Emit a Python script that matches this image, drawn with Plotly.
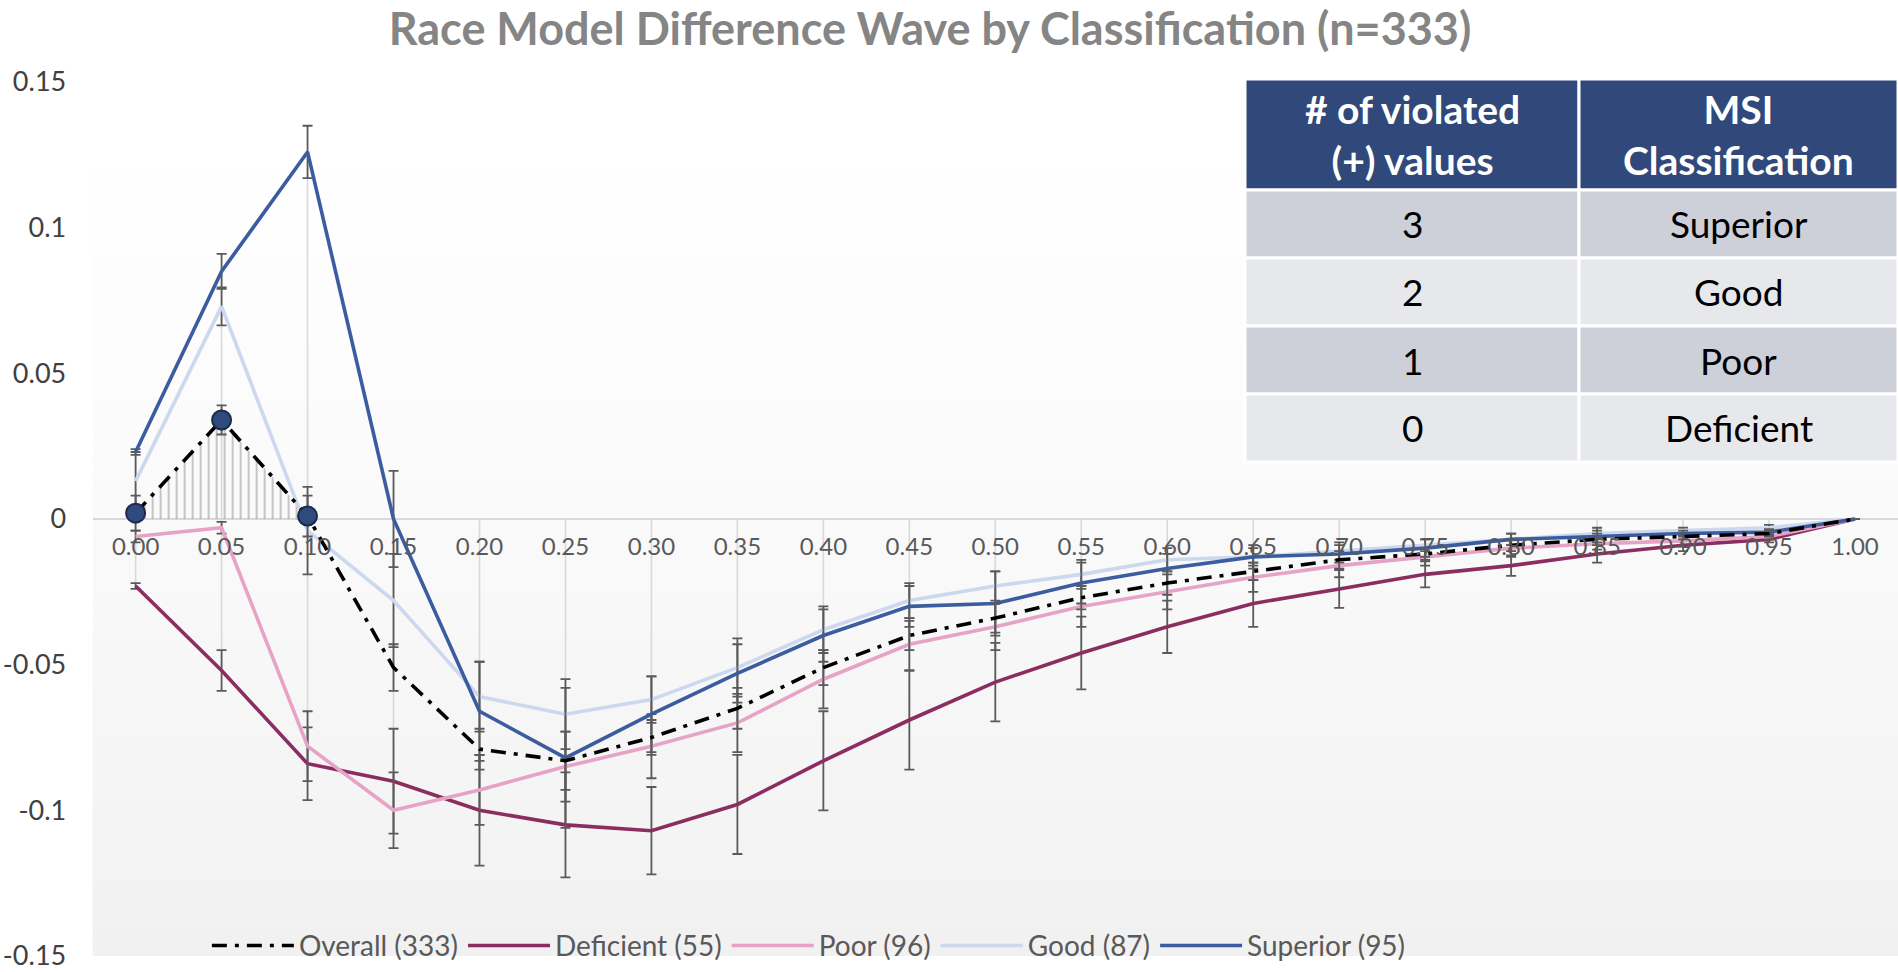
import numpy as np
import plotly.graph_objects as go

# ---------------- data ----------------
categories = ["0.00", "0.05", "0.10", "0.15", "0.20", "0.25", "0.30", "0.35", "0.40", "0.45",
              "0.50", "0.55", "0.60", "0.65", "0.70", "0.75", "0.80", "0.85", "0.90", "0.95", "1.00"]

overall = [0.002, 0.034, 0.001, -0.051, -0.079, -0.083, -0.075, -0.065, -0.051, -0.040,
           -0.034, -0.027, -0.022, -0.018, -0.014, -0.012, -0.009, -0.007, -0.006, -0.005, 0.0]
deficient = [-0.023, -0.052, -0.084, -0.090, -0.100, -0.105, -0.107, -0.098, -0.083, -0.069,
             -0.056, -0.046, -0.037, -0.029, -0.024, -0.019, -0.016, -0.012, -0.009, -0.007, 0.0]
poor = [-0.006, -0.003, -0.078, -0.100, -0.093, -0.085, -0.078, -0.070, -0.055, -0.043,
        -0.037, -0.030, -0.025, -0.020, -0.016, -0.013, -0.010, -0.0085, -0.0075, -0.006, 0.0]
good = [0.013, 0.073, -0.004, -0.028, -0.061, -0.067, -0.062, -0.051, -0.038, -0.028,
        -0.023, -0.019, -0.014, -0.013, -0.011, -0.009, -0.007, -0.005, -0.004, -0.003, 0.0]
superior = [0.023, 0.085, 0.126, 0.000, -0.066, -0.082, -0.067, -0.053, -0.040, -0.030,
            -0.029, -0.022, -0.017, -0.013, -0.012, -0.010, -0.007, -0.006, -0.005, -0.0045, 0.0]

overall_err = [0.006, 0.005, 0.007, 0.008, 0.007, 0.010, 0.006, 0.007, 0.006, 0.005,
               0.005, 0.004, 0.004, 0.003, 0.003, 0.002, 0.002, 0.002, 0.001, 0.001, 0.0]
deficient_err = [0.001, 0.007, 0.0125, 0.018, 0.019, 0.018, 0.015, 0.017, 0.017, 0.017,
                 0.0135, 0.0125, 0.009, 0.008, 0.0065, 0.0045, 0.0035, 0.003, 0.002, 0.001, 0.0]
poor_err = [0.002, 0.002, 0.012, 0.013, 0.012, 0.012, 0.011, 0.010, 0.010, 0.009,
            0.008, 0.007, 0.006, 0.005, 0.004, 0.003, 0.003, 0.002, 0.002, 0.001, 0.0]
good_err = [0.010, 0.0065, 0.015, 0.016, 0.012, 0.012, 0.008, 0.010, 0.008, 0.006,
            0.005, 0.005, 0.004, 0.003, 0.003, 0.002, 0.002, 0.002, 0.001, 0.001, 0.0]
superior_err = [0.001, 0.006, 0.009, 0.0165, 0.017, 0.024, 0.013, 0.010, 0.009, 0.007,
                0.011, 0.007, 0.005, 0.004, 0.003, 0.003, 0.002, 0.002, 0.001, 0.001, 0.0]

y_tickvals = [0.15, 0.1, 0.05, 0, -0.05, -0.1, -0.15]
y_ticktext = ["0.15", "0.1", "0.05", "0", "-0.05", "-0.1", "-0.15"]

table_header = ["# of violated<br>(+) values", "MSI<br>Classification"]
table_counts = ["3", "2", "1", "0"]
table_classes = ["Superior", "Good", "Poor", "Deficient"]

title_text = "Race Model Difference Wave by Classification (n=333)"

# ---------------- styling ----------------
FONT = "Lato, 'Open Sans', sans-serif"
colors = {
    "Overall (333)": "#000000",
    "Deficient (55)": "#8c2d61",
    "Poor (96)": "#e6a3c6",
    "Good (87)": "#cbd8ee",
    "Superior (95)": "#3b5c9f",
}
ERR_COLOR = "#5a5a5a"

W, H = 1898, 972
Y0, Y1 = 0.0165, 0.9156      # plot domain (paper)
X0, X1 = 0.0488, 1.0
YMIN, YMAX = -0.15, 0.15
axis_pos = Y0 + (Y1 - Y0) * (0 - YMIN) / (YMAX - YMIN)

fig = go.Figure()

# drop lines (from zero to the extreme values of each category)
all_series = np.array([overall, deficient, poor, good, superior])
lo = np.minimum(all_series.min(axis=0), 0)
hi = np.maximum(all_series.max(axis=0), 0)
dx, dy = [], []
for c, a, b in zip(categories, lo, hi):
    dx += [c, c, None]
    dy += [float(a), float(b), None]
fig.add_trace(go.Scatter(x=dx, y=dy, mode="lines", line=dict(color="#d9d9d9", width=1.6),
                         showlegend=False, hoverinfo="skip"))

# hatched area + markers for positive (violated) values of the overall curve
viol_x = [c for c, v in zip(categories, overall) if v > 0]
viol_y = [v for v in overall if v > 0]
fig.add_trace(go.Scatter(
    x=viol_x, y=viol_y, mode="lines", line=dict(width=0, color="rgba(0,0,0,0)"),
    fill="tozeroy", fillcolor="rgba(0,0,0,0)",
    fillpattern=dict(shape="|", size=8, solidity=0.25, fgcolor="#8f8f8f", bgcolor="rgba(0,0,0,0)"),
    showlegend=False, hoverinfo="skip"))

def add_series(name, vals, errs, rank, dash="solid"):
    fig.add_trace(go.Scatter(
        x=categories, y=vals, name=name, mode="lines",
        line=dict(color=colors[name], width=3.6, dash=dash),
        error_y=dict(type="data", array=errs, visible=True, color=ERR_COLOR, thickness=1.8, width=5),
        legendrank=rank))

add_series("Deficient (55)", deficient, deficient_err, 2)
add_series("Poor (96)", poor, poor_err, 3)
add_series("Good (87)", good, good_err, 4)
add_series("Superior (95)", superior, superior_err, 5)
add_series("Overall (333)", overall, overall_err, 1, dash="15px,8px,4px,8px")

fig.add_trace(go.Scatter(
    x=viol_x, y=viol_y, mode="markers",
    marker=dict(size=19, color="#2f4a7c", line=dict(color="#1b2b4b", width=2)),
    showlegend=False, hoverinfo="skip"))

# gradient background for plot area
N = 60
for i in range(N):
    t = (i + 0.5) / N  # 0 bottom, 1 top
    g = int(round(255 - 14 * (1 - t) ** 1.4))
    fig.add_shape(type="rect", xref="x domain", yref="y domain",
                  x0=0, x1=1, y0=i / N, y1=(i + 1) / N + 0.002,
                  fillcolor=f"rgb({g},{g},{g})", line=dict(width=0), layer="below")

# ---------------- table (shapes + text) ----------------
TX = [1245 / W, 1579 / W, 1.0]         # column edges (paper)
T_TOP = 1 - 79 / H
HDR_H = 111 / H
ROW_H = 68 / H
row_fills = ["#cdd0d8", "#e7e8ec", "#cdd0d8", "#e7e8ec"]

def cell(x0, x1, y0, y1, color):
    fig.add_shape(type="rect", xref="paper", yref="paper", x0=x0, x1=x1, y0=y0, y1=y1,
                  fillcolor=color, line=dict(color="white", width=3), layer="above")

for j, htxt in enumerate(table_header):
    y1 = T_TOP
    y0 = T_TOP - HDR_H
    cell(TX[j], TX[j + 1], y0, y1, "#30497a")
    fig.add_annotation(x=(TX[j] + TX[j + 1]) / 2, y=(y0 + y1) / 2, xref="paper", yref="paper",
                       text=htxt, showarrow=False, align="center", xanchor="center", yanchor="middle",
                       font=dict(family=FONT, size=39, color="white", weight="bold"))

for i, (cnt, cls) in enumerate(zip(table_counts, table_classes)):
    y1 = T_TOP - HDR_H - i * ROW_H
    y0 = y1 - ROW_H
    for j, txt in enumerate([cnt, cls]):
        cell(TX[j], TX[j + 1], y0, y1, row_fills[i])
        fig.add_annotation(x=(TX[j] + TX[j + 1]) / 2, y=(y0 + y1) / 2, xref="paper", yref="paper",
                           text=txt, showarrow=False, xanchor="center", yanchor="middle",
                           font=dict(family=FONT, size=37, color="black"))

fig.update_layout(
    width=W, height=H,
    margin=dict(l=0, r=0, t=0, b=0),
    paper_bgcolor="white", plot_bgcolor="white",
    font=dict(family=FONT, color="#595959"),
    title=dict(text=title_text, x=0.49, y=0.970, xanchor="center", yanchor="middle",
               font=dict(family=FONT, size=45, color="#858585", weight="bold")),
    xaxis=dict(type="category", categoryorder="array", categoryarray=categories,
               range=[-0.5, len(categories) - 0.5], domain=[X0, X1],
               anchor="free", position=axis_pos, showgrid=False, showline=False,
               zeroline=False, ticks="outside", ticklen=6, tickcolor="rgba(0,0,0,0)",
               tickfont=dict(size=24, color="#595959"),
               automargin=False, fixedrange=True),
    yaxis=dict(range=[YMIN, YMAX], domain=[Y0, Y1], tickvals=y_tickvals, ticktext=y_ticktext,
               showgrid=False, zeroline=True, zerolinecolor="#d9d9d9", zerolinewidth=2,
               showline=False, ticks="outside", ticklen=20, tickcolor="rgba(0,0,0,0)",
               tickfont=dict(size=27, color="#404040"), automargin=False, fixedrange=True),
    legend=dict(orientation="h", x=0.109, y=0.027, xanchor="left", yanchor="middle",
                bgcolor="rgba(0,0,0,0)", font=dict(size=28, color="#595959"),
                traceorder="normal", itemwidth=82),
    showlegend=True,
)

fig.write_html("out.html", config={"displayModeBar": False},
               post_script="document.body.style.margin='0';document.body.style.overflow='hidden';")
